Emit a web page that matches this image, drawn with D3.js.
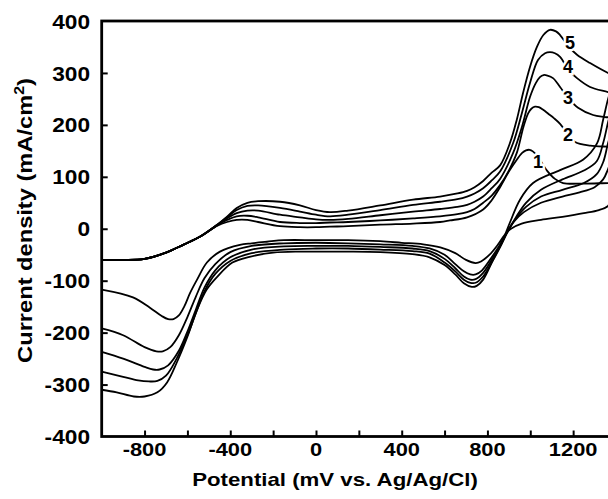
<!DOCTYPE html>
<html><head><meta charset="utf-8">
<script src="https://cdn.jsdelivr.net/npm/d3@7/dist/d3.min.js"></script>
<style>body{margin:0;background:#fff;} svg{display:block;}</style>
</head><body>
<svg id="c" width="608" height="499"></svg>
<script>
// ---- data (potential mV, current density mA/cm2) ----
const xTicks = [-800,-600,-400,-200,0,200,400,600,800,1000,1200];
const xLabels = [-800,-400,0,400,800,1200];
const yTicks = [-300,-200,-100,0,100,200,300];
const yLabels = [400,300,200,100,0,-100,-200,-300,-400];

const forward1 = [[-1000,-60],[-900,-60],[-800,-58],[-700,-46],[-620,-31],[-540,-15],[-460,6],[-415,13],[-370,17],[-320,17],[-270,13],[-168,5],[-75,3],[0,3],[65,4],[150,5],[300,8],[453,10],[579,13],[625,16],[705,22],[780,37],[820,55],[859,80],[900,110],[937,133],[962,146],[980,151],[997,152],[1012,149],[1035,139],[1078,112],[1115,96],[1153,88],[1250,87],[1363,88],[1400,88]];
const reverse1 = [[1380,58],[1363,44],[1320,36],[1250,30],[1150,23],[1050,17],[960,10],[910,0],[880,-12],[850,-30],[810,-50],[770,-63],[745,-66],[700,-60],[650,-47],[580,-36],[500,-30],[400,-27],[300,-24],[150,-22],[0,-22],[-150,-22],[-229,-25],[-300,-28],[-355,-31],[-448,-44],[-509,-65],[-555,-98],[-588,-124],[-615,-150],[-640,-167],[-665,-174],[-690,-174],[-720,-168],[-775,-152],[-854,-132],[-1000,-117]];

const forward2 = [[-1000,-60],[-900,-60],[-800,-58],[-700,-46],[-620,-31],[-540,-15],[-460,7],[-415,17],[-370,24],[-320,25],[-270,22],[-168,13],[-75,11],[0,11],[65,12],[150,13],[300,16],[453,20],[579,24],[660,28],[705,32],[740,38],[780,50],[820,64],[859,84],[900,112],[937,146],[968,196],[990,222],[1005,231],[1022,235],[1040,234],[1060,229],[1085,221],[1110,213],[1139,202],[1175,182],[1209,167],[1280,160],[1363,158],[1400,157]];
const reverse2 = [[1380,135],[1363,115],[1340,95],[1300,80],[1230,70],[1150,62],[1050,50],[970,32],[920,12],[890,-8],[855,-33],[815,-58],[775,-80],[745,-88],[720,-88],[690,-82],[650,-68],[600,-50],[530,-38],[450,-33],[300,-30],[150,-28],[0,-27],[-150,-28],[-300,-33],[-400,-45],[-470,-68],[-520,-95],[-560,-130],[-600,-170],[-640,-205],[-680,-228],[-715,-236],[-745,-236],[-800,-228],[-900,-205],[-1000,-192]];

const forward3 = [[-1000,-60],[-900,-60],[-800,-58],[-700,-46],[-620,-31],[-540,-15],[-460,7],[-415,20],[-370,30],[-320,35],[-270,35],[-168,27],[-75,22],[0,18],[65,17],[150,19],[300,26],[453,33],[579,38],[660,42],[705,46],[740,52],[780,62],[820,78],[859,96],[920,146],[961,196],[999,254],[1025,280],[1045,292],[1062,296],[1080,295],[1106,290],[1139,273],[1180,250],[1223,233],[1293,219],[1349,215],[1400,212]];
const reverse3 = [[1380,188],[1363,165],[1340,128],[1310,105],[1250,88],[1150,75],[1050,62],[980,42],[930,18],[895,-5],[860,-33],[820,-60],[780,-85],[745,-97],[720,-98],[690,-92],[650,-76],[600,-58],[530,-43],[450,-38],[300,-35],[150,-33],[0,-33],[-150,-34],[-300,-40],[-400,-55],[-470,-80],[-520,-113],[-560,-155],[-600,-198],[-640,-235],[-690,-263],[-730,-271],[-760,-271],[-800,-266],[-900,-250],[-1000,-237]];

const forward4 = [[-1000,-60],[-900,-60],[-800,-58],[-700,-46],[-620,-31],[-540,-15],[-460,8],[-415,22],[-370,36],[-320,44],[-270,45],[-168,40],[-75,33],[0,27],[65,24],[150,27],[300,36],[453,46],[579,52],[660,57],[705,62],[740,68],[780,78],[820,93],[859,110],[920,165],[961,223],[999,281],[1036,325],[1069,338],[1092,340],[1115,338],[1139,331],[1180,305],[1218,290],[1279,273],[1363,263],[1400,258]];
const reverse4 = [[1380,230],[1363,205],[1340,165],[1310,130],[1250,112],[1150,95],[1050,75],[980,50],[930,20],[895,-5],[860,-35],[820,-65],[780,-92],[745,-104],[720,-104],[690,-98],[650,-82],[600,-65],[530,-48],[450,-43],[300,-40],[150,-38],[0,-38],[-150,-40],[-300,-47],[-400,-62],[-470,-87],[-520,-120],[-560,-162],[-600,-205],[-650,-250],[-700,-283],[-740,-293],[-780,-294],[-830,-292],[-900,-285],[-1000,-275]];

const forward5 = [[-1000,-60],[-900,-60],[-800,-58],[-700,-46],[-620,-31],[-540,-15],[-460,8],[-415,23],[-370,40],[-320,50],[-270,53],[-168,52],[-75,45],[0,36],[65,32],[150,35],[300,45],[453,56],[579,62],[660,68],[705,73],[740,80],[780,92],[820,108],[859,122],[905,165],[937,210],[966,261],[999,312],[1031,350],[1061,373],[1092,383],[1120,380],[1139,373],[1180,350],[1218,335],[1279,319],[1363,300],[1400,294]];
const reverse5 = [[1380,272],[1363,250],[1340,210],[1312,165],[1246,133],[1139,113],[1013,88],[952,56],[905,12],[873,-21],[826,-60],[780,-98],[750,-110],[727,-112],[690,-105],[650,-88],[600,-70],[530,-55],[450,-49],[300,-45],[150,-44],[0,-44],[-75,-44],[-200,-46],[-310,-54],[-390,-65],[-460,-92],[-510,-117],[-555,-156],[-600,-208],[-650,-258],[-695,-296],[-740,-315],[-800,-323],[-850,-323],[-930,-315],[-1000,-310]];

const curveNames = ["1","2","3","4","5"];
const labelPos = [[1036,129],[1176,181],[1176,252],[1176,312],[1185,358]];

// ---- drawing ----
const svg = d3.select("#c");
const x = d3.scaleLinear().domain([-1000,1400]).range([101.7,616]);
const y = d3.scaleLinear().domain([-400,400]).range([436.5,21]);
const FONT = "'Liberation Sans', Arial, Helvetica, sans-serif";

svg.append("defs").append("clipPath").attr("id","clip")
  .append("rect").attr("x",x(-1000)).attr("y",y(400)).attr("width",x(1400)-x(-1000)).attr("height",y(-400)-y(400));

const loops = [forward1.concat(reverse1), forward2.concat(reverse2), forward3.concat(reverse3), forward4.concat(reverse4), forward5.concat(reverse5)];
const line = d3.line().x(d=>x(d[0])).y(d=>y(d[1])).curve(d3.curveCatmullRom.alpha(0.5));
svg.append("g").attr("clip-path","url(#clip)").selectAll("path").data(loops).join("path")
  .attr("d", line).attr("fill","none").attr("stroke","#000").attr("stroke-width",1.8).attr("stroke-linejoin","round");

// curve labels with white halo (gap in lines)
svg.append("g").selectAll("text").data(labelPos).join("text")
  .attr("x", d=>x(d[0])).attr("y", d=>y(d[1])).attr("dy","0.36em")
  .attr("text-anchor","middle").attr("font-family",FONT).attr("font-size",18).attr("font-weight","bold")
  .attr("stroke","#fff").attr("stroke-width",5).attr("paint-order","stroke")
  .text((d,i)=>curveNames[i]);

// ticks
const xa = svg.append("g").attr("transform",`translate(0,${y(-400)})`)
  .call(d3.axisBottom(x).tickValues(xTicks).tickSize(-6).tickFormat(""));
const ya = svg.append("g").attr("transform",`translate(${x(-1000)},0)`)
  .call(d3.axisLeft(y).tickValues(yTicks).tickSize(-6).tickFormat(""));
[xa,ya].forEach(a=>{a.select(".domain").remove(); a.selectAll("line").attr("stroke","#000").attr("stroke-width",2);});

// frame
svg.append("rect").attr("x",x(-1000)).attr("y",y(400)).attr("width",x(1400)-x(-1000)).attr("height",y(-400)-y(400))
  .attr("fill","none").attr("stroke","#000").attr("stroke-width",2.8);

// tick labels
svg.append("g").selectAll("text").data(xLabels).join("text")
  .attr("transform", d=>`translate(${x(d)},456) scale(1.15,1)`)
  .attr("text-anchor","middle").attr("font-family",FONT).attr("font-size",19).attr("font-weight","bold")
  .text(d=>d);
svg.append("g").selectAll("text").data(yLabels).join("text")
  .attr("transform", d=>`translate(90,${y(d)}) scale(1.08,1)`).attr("dy","0.36em")
  .attr("text-anchor","end").attr("font-family",FONT).attr("font-size",21).attr("font-weight","bold")
  .text(d=>d);

// titles
function fit(sel, w){ const bw = sel.node().getBBox().width; return w/bw; }
const xt = svg.append("g").attr("transform","translate(335,486)");
const xtt = xt.append("text").attr("text-anchor","middle").attr("font-family",FONT).attr("font-size",19).attr("font-weight","bold")
  .text("Potential (mV vs. Ag/Ag/Cl)");
xtt.attr("transform",`scale(${fit(xtt,286)},1)`);

const yt = svg.append("g").attr("transform","translate(32,220.5) rotate(-90)");
const ytt = yt.append("text").attr("text-anchor","middle").attr("font-family",FONT).attr("font-size",21).attr("font-weight","bold");
ytt.append("tspan").text("Current density (mA/cm");
ytt.append("tspan").attr("font-size",14).attr("dy",-8).text("2");
ytt.append("tspan").attr("dy",8).text(")");
ytt.attr("transform",`scale(${fit(ytt,285)},1)`);
</script>
</body></html>
